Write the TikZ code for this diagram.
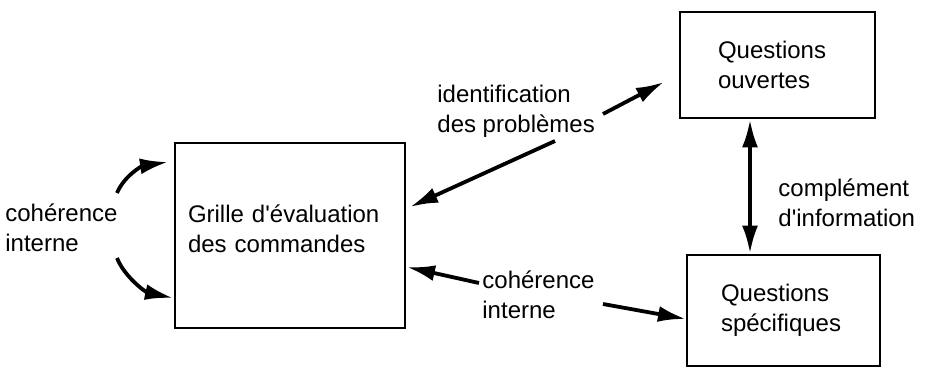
\documentclass[tikz,border=0pt]{standalone}
\usepackage{fontspec}
\setmainfont{Liberation Sans}
\usetikzlibrary{arrows.meta}

\tikzset{
    txt/.style={font=\fontsize{12}{15}\selectfont},
    box/.style={txt, draw, line width=1.4pt, align=left, inner ysep=0pt},
    lbl/.style={txt, align=left, inner sep=0pt, anchor=west},
    arr/.style={-{Latex[length=14pt,width=8pt]}, line width=1.9pt},
    dbl/.style={{Latex[length=14pt,width=8pt]}-{Latex[length=14pt,width=8pt]}, line width=1.9pt}
}

\begin{document}
\begin{tikzpicture}[x=0.5pt, y=-0.5pt]
    \useasboundingbox (0,0) rectangle (925,369);
    % Boxes
    \node[box, text width=102pt, inner xsep=6.5pt, minimum height=92.5pt, text depth=21.5pt]
        (grille) at (290,235.5) {Grille d\textquotesingle évaluation\\des commandes};
    \node[box, text width=59.5pt, inner xsep=19pt, minimum height=53pt]
        (ouvertes) at (777.5,65) {Questions\\ouvertes};
    \node[box, text width=62.5pt, inner xsep=17pt, minimum height=55.5pt]
        (specif) at (783.5,310.5) {Questions\\spécifiques};
    % Labels
    \node[lbl] (coh-g) at (5,227.5) {cohérence\\interne};
    \node[lbl] (ident) at (437,111.5) {identification\\des problèmes};
    \node[lbl] (compl) at (778,203) {complément\\d\textquotesingle information};
    \node[lbl] (coh-s) at (482,295) {cohérence\\interne};
    % Arrow ends
    \coordinate (cg-1) at (117,193);
    \coordinate (cg-2) at (117,258);
    \coordinate (g-up) at (168,162);
    \coordinate (g-dn) at (173,298);
    \coordinate (id-1) at (603,114);
    \coordinate (id-2) at (555,141);
    \coordinate (o-in) at (664,82);
    \coordinate (g-id) at (410,207);
    \coordinate (cs-1) at (479,283);
    \coordinate (cs-2) at (603,304);
    \coordinate (g-cs) at (407,267);
    \coordinate (s-in) at (686,319);
    \coordinate (vx) at (750,0);
    % Arrows
    \draw[arr] (cg-1) .. controls (124,176) and (142,166) .. (g-up);
    \draw[arr] (cg-2) .. controls (124,276) and (145,292) .. (g-dn);
    \foreach \a/\b in {id-1/o-in, id-2/g-id, cs-1/g-cs, cs-2/s-in} {
        \draw[arr] (\a) -- (\b);
    }
    \draw[dbl] (ouvertes.south -| vx) -- (specif.north -| vx);
\end{tikzpicture}
\end{document}
